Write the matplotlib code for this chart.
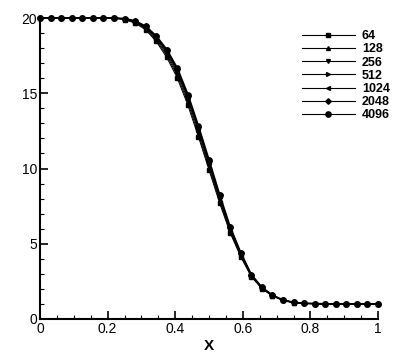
import matplotlib
matplotlib.use('Agg')
import matplotlib.pyplot as plt
from matplotlib.ticker import MultipleLocator

plt.rcParams['font.family'] = ['Liberation Sans', 'DejaVu Sans']

# sample positions (every 1/32)
x = [i / 32 for i in range(33)]

labels = ['64', '128', '256', '512', '1024', '2048', '4096']
markers = ['s', '^', 'v', '>', '<', 'D', 'o']

hi = [20.0] * 7
lo = [1.0] * 6

y64 = hi + [19.99, 19.9, 19.66, 19.22, 18.44, 17.38, 16.0, 14.2, 12.1, 9.9, 7.71,
            5.72, 4.14, 2.81, 2.02, 1.53, 1.24, 1.09, 1.04, 1.02] + lo
y128 = hi + [19.99, 19.91, 19.7, 19.28, 18.53, 17.51, 16.16, 14.37, 12.27, 10.06, 7.85,
             5.82, 4.2, 2.85, 2.04, 1.54, 1.24, 1.09, 1.04, 1.02] + lo
y256 = hi + [20.0, 19.93, 19.73, 19.33, 18.62, 17.64, 16.32, 14.55, 12.45, 10.22, 7.98,
             5.91, 4.27, 2.88, 2.06, 1.56, 1.25, 1.1, 1.04, 1.02] + lo
y512 = hi + [20.0, 19.94, 19.76, 19.38, 18.69, 17.74, 16.45, 14.69, 12.59, 10.35, 8.09,
             5.99, 4.32, 2.91, 2.08, 1.57, 1.26, 1.1, 1.04, 1.02] + lo
y1024 = hi + [20.0, 19.94, 19.78, 19.41, 18.75, 17.82, 16.55, 14.8, 12.7, 10.45, 8.17,
              6.04, 4.36, 2.93, 2.09, 1.58, 1.26, 1.1, 1.04, 1.02] + lo
y2048 = hi + [20.0, 19.95, 19.79, 19.44, 18.78, 17.87, 16.61, 14.85, 12.75, 10.5, 8.21,
              6.08, 4.38, 2.94, 2.1, 1.58, 1.26, 1.1, 1.04, 1.02] + lo
y4096 = hi + [20.0, 19.95, 19.8, 19.45, 18.8, 17.9, 16.65, 14.9, 12.8, 10.55, 8.25,
              6.1, 4.4, 2.95, 2.1, 1.58, 1.26, 1.1, 1.04, 1.02] + lo

series = [y64, y128, y256, y512, y1024, y2048, y4096]

fig = plt.figure(figsize=(3.99, 3.55), dpi=100)
ax = fig.add_axes([40 / 399, 1 - 319 / 355, 338 / 399, 301 / 355])

for y, lab, m in zip(series, labels, markers):
    if lab == '4096':
        ax.plot(x, y, color='black', lw=1.4, marker=m, ms=3.8, label=lab, clip_on=False, zorder=5)
    else:
        ax.plot(x, y, color='black', lw=0.7, marker=m, ms=2.8, label=lab, clip_on=False)

ax.set_xlim(0, 1)
ax.set_ylim(0, 20)
ax.set_xticks([0, 0.2, 0.4, 0.6, 0.8, 1])
ax.set_xticklabels(['0', '0.2', '0.4', '0.6', '0.8', '1'])
ax.xaxis.set_minor_locator(MultipleLocator(0.05))
ax.yaxis.set_major_locator(MultipleLocator(5))
ax.yaxis.set_minor_locator(MultipleLocator(1))
ax.tick_params(which='major', direction='in', length=6, width=1.2, labelsize=10, pad=2)
ax.tick_params(which='minor', direction='in', length=3, width=0.8)
ax.spines['top'].set_visible(False)
ax.spines['right'].set_visible(False)
ax.spines['left'].set_linewidth(1.5)
ax.spines['bottom'].set_linewidth(1.5)

ax.set_xlabel('X', fontsize=11, fontweight='bold', labelpad=2)

leg = fig.legend(loc='upper left', bbox_to_anchor=(302 / 399, 1 - 30 / 355),
                 frameon=False, numpoints=1, handlelength=4.2, handletextpad=0.6,
                 labelspacing=0.1, borderpad=0, borderaxespad=0,
                 prop={'size': 9, 'weight': 'bold'})
for h in leg.get_lines():
    h.set_linewidth(0.8)

fig.savefig('out.png', dpi=100)
